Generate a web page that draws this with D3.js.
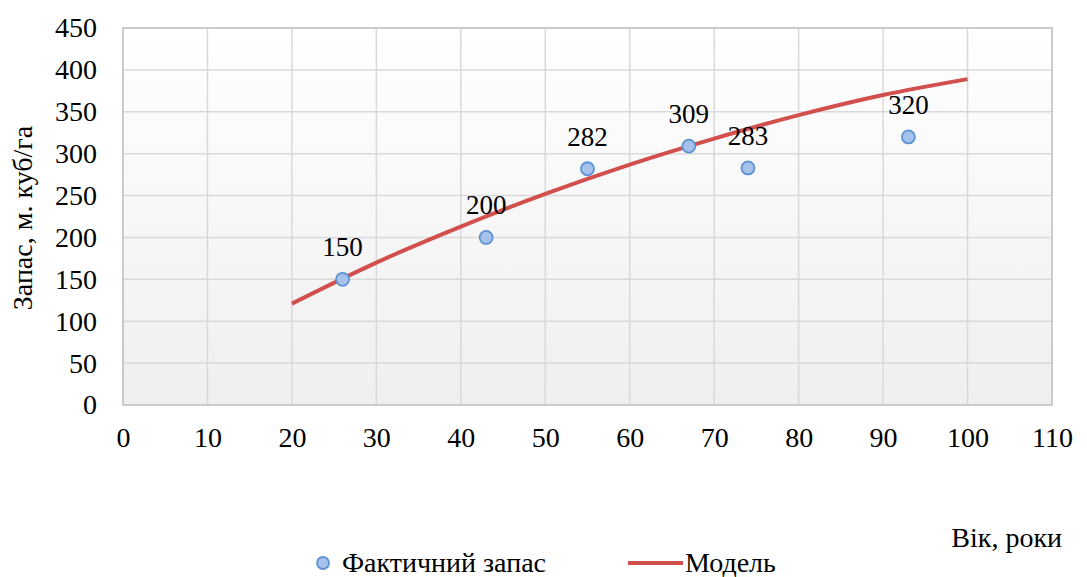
<!DOCTYPE html>
<html><head><meta charset="utf-8">
<script src="https://cdn.jsdelivr.net/npm/d3@7"></script>
</head><body style="margin:0;background:#fff"><svg id="c" width="1087" height="577" style="display:block">
<g id="bgLayer"></g>
<text style="font-family:'Liberation Serif','Times New Roman',serif !important" font-size="28" text-anchor="middle" transform="translate(32,218) rotate(-90)">Запас, м. куб/га</text>
<text style="font-family:'Liberation Serif','Times New Roman',serif !important" font-size="28" text-anchor="end" x="1062" y="547">Вік, роки</text>
<text style="font-family:'Liberation Serif','Times New Roman',serif !important" font-size="28" x="342" y="572">Фактичний запас</text>
<text style="font-family:'Liberation Serif','Times New Roman',serif !important" font-size="28" x="685" y="572">Модель</text>
</svg>
<script>
const ages = [26, 43, 55, 67, 74, 93];
const stock = [150, 200, 282, 309, 283, 320];
const modelAges = [20, 30, 40, 50, 60, 70, 80, 90, 100];
const modelStock = [121, 170, 213, 252, 287, 318, 346, 370, 389];
const xTicks = [0,10,20,30,40,50,60,70,80,90,100,110];
const yTicks = [0,50,100,150,200,250,300,350,400,450];

const FONT = "'Liberation Serif','Times New Roman',serif";
const svg = d3.select("#c");
const base = d3.select("#bgLayer");
const m = {l:123, r:1052, t:28, b:405};
const x = d3.scaleLinear().domain([0,110]).range([m.l,m.r]);
const y = d3.scaleLinear().domain([0,450]).range([m.b,m.t]);

const defs = svg.insert("defs",":first-child");
const g = defs.append("linearGradient").attr("id","bg").attr("x1",0).attr("y1",0).attr("x2",0).attr("y2",1);
g.append("stop").attr("offset","0%").attr("stop-color","#ffffff");
g.append("stop").attr("offset","100%").attr("stop-color","#efefef");

base.append("rect").attr("x",m.l).attr("y",m.t).attr("width",m.r-m.l).attr("height",m.b-m.t).attr("fill","url(#bg)");

base.append("g").selectAll("line").data(xTicks).join("line")
  .attr("x1",d=>x(d)).attr("x2",d=>x(d)).attr("y1",m.t).attr("y2",m.b)
  .attr("stroke","#d9d9d9").attr("stroke-width",1.5);
base.append("g").selectAll("line").data(yTicks).join("line")
  .attr("y1",d=>y(d)).attr("y2",d=>y(d)).attr("x1",m.l).attr("x2",m.r)
  .attr("stroke","#d9d9d9").attr("stroke-width",1.5);
base.append("rect").attr("x",m.l).attr("y",m.t).attr("width",m.r-m.l).attr("height",m.b-m.t)
  .attr("fill","none").attr("stroke","#c4c4c4").attr("stroke-width",1.5);

const xAxis = base.append("g").attr("transform",`translate(0,${m.b})`)
  .call(d3.axisBottom(x).tickValues(xTicks).tickSize(0).tickPadding(22));
xAxis.attr("font-family","Liberation Serif").attr("font-size",28);
xAxis.select(".domain").remove();
xAxis.selectAll("text").attr("fill","#000").style("font-family",FONT,"important");

const yAxis = base.append("g").attr("transform",`translate(${m.l},0)`)
  .call(d3.axisLeft(y).tickValues(yTicks).tickSize(0).tickPadding(26));
yAxis.attr("font-family","Liberation Serif").attr("font-size",28);
yAxis.select(".domain").remove();
yAxis.selectAll("text").attr("fill","#000").style("font-family",FONT,"important");

const model = modelAges.map((a,i)=>[a, modelStock[i]]);
base.append("path").datum(model)
  .attr("d", d3.line().x(d=>x(d[0])).y(d=>y(d[1])).curve(d3.curveMonotoneX))
  .attr("fill","none").attr("stroke","#d14f4c").attr("stroke-width",4);

const pts = ages.map((a,i)=>[a, stock[i]]);
base.append("g").selectAll("circle").data(pts).join("circle")
  .attr("cx",d=>x(d[0])).attr("cy",d=>y(d[1])).attr("r",6.5)
  .attr("fill","#a6c2ea").attr("stroke","#5b93d3").attr("stroke-width",1.8);
base.append("g").attr("font-family","Liberation Serif").attr("font-size",27)
  .selectAll("text").data(pts).join("text")
  .attr("x",d=>x(d[0])).attr("y",d=>y(d[1])-23).attr("text-anchor","middle")
  .style("font-family",FONT,"important")
  .text(d=>d[1]);

base.append("circle").attr("cx",323).attr("cy",563).attr("r",6)
  .attr("fill","#a6c2ea").attr("stroke","#5b93d3").attr("stroke-width",1.8);
base.append("line").attr("x1",628).attr("x2",683).attr("y1",563).attr("y2",563)
  .attr("stroke","#d14f4c").attr("stroke-width",4);
</script></body></html>
